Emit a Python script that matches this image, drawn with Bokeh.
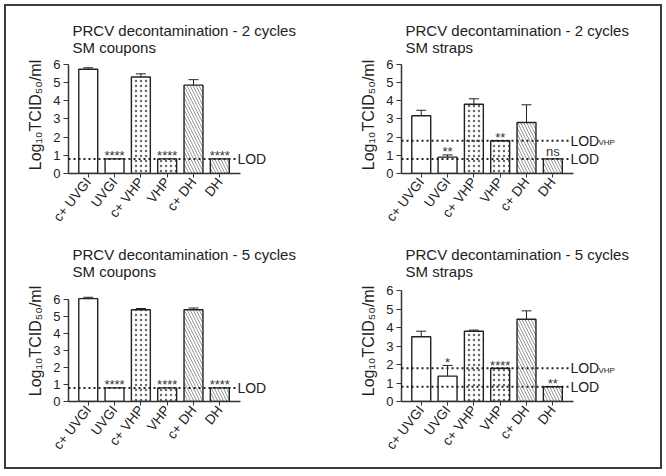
from math import pi
from bokeh.plotting import figure
from bokeh.models import ColumnDataSource, Range1d, FixedTicker, Whisker, TeeHead
from bokeh.layouts import column, row
from bokeh.embed import file_html
from bokeh.resources import INLINE
from bokeh.core.properties import value

# ---------------- data ----------------
categories = ["c+ UVGI", "UVGI", "c+ VHP", "VHP", "c+ DH", "DH"]
y_ticks = [0, 1, 2, 3, 4, 5, 6]

titles = [
    "PRCV decontamination - 2 cycles\nSM coupons",
    "PRCV decontamination - 2 cycles\nSM straps",
    "PRCV decontamination - 5 cycles\nSM coupons",
    "PRCV decontamination - 5 cycles\nSM straps",
]

mean_2c_coupons = [5.72, 0.8, 5.3, 0.8, 4.85, 0.8]
sem_2c_coupons = [0.08, 0.0, 0.17, 0.0, 0.3, 0.0]
sig_2c_coupons = ["", "****", "", "****", "", "****"]

mean_2c_straps = [3.17, 0.9, 3.8, 1.8, 2.8, 0.8]
sem_2c_straps = [0.3, 0.12, 0.3, 0.0, 0.97, 0.0]
sig_2c_straps = ["", "**", "", "**", "", "ns"]

mean_5c_coupons = [6.05, 0.8, 5.4, 0.8, 5.4, 0.8]
sem_5c_coupons = [0.08, 0.0, 0.07, 0.0, 0.1, 0.0]
sig_5c_coupons = ["", "****", "", "****", "", "****"]

mean_5c_straps = [3.5, 1.37, 3.8, 1.8, 4.45, 0.8]
sem_5c_straps = [0.3, 0.58, 0.06, 0.0, 0.45, 0.0]
sig_5c_straps = ["", "*", "", "****", "", "**"]

lod = 0.8
lod_vhp = 1.8

# ---------------- styles ----------------
hatch_for = ["blank", "blank", "dot", "dot", "left_diagonal_line", "left_diagonal_line"]
hatch_scale_for = [6, 6, 5, 5, 6, 6]
FONT = "Liberation Sans"
INK = "#222222"
X_START = -0.75
X_END = 7.8
FRAME_W = 225
TOP = 48
LEFT = 60


def make_panel(title, means, sems, sigs, width, height, px_unit, frame_bottom, show_vhp):
    y_end = (frame_bottom - TOP) / px_unit
    n = len(categories)
    xs = list(range(n))
    p = figure(width=width, height=height,
               x_range=Range1d(X_START, X_END), y_range=Range1d(0, y_end),
               output_backend="svg", toolbar_location=None,
               min_border_left=LEFT, min_border_right=width - LEFT - FRAME_W,
               min_border_top=TOP, min_border_bottom=height - frame_bottom,
               outline_line_color=None, background_fill_color="white",
               border_fill_color="white")
    p.grid.visible = False

    p.title.text = title
    p.title.text_font = FONT
    p.title.text_font_size = "15px"
    p.title.text_font_style = "normal"
    p.title.text_color = INK
    p.title.align = "left"
    p.title.offset = 4
    p.title.standoff = 2
    p.title.text_line_height = 1.0

    ya = p.yaxis[0]
    ya.ticker = FixedTicker(ticks=y_ticks)
    ya.bounds = (0, 6)
    ya.axis_label = "Log\u2081\u2080TCID\u2085\u2080/ml"
    ya.axis_label_text_font = FONT
    ya.axis_label_text_font_size = "16px"
    ya.axis_label_text_font_style = "normal"
    ya.axis_label_text_color = INK
    ya.axis_label_standoff = 6
    ya.major_label_text_font = FONT
    ya.major_label_text_font_size = "13px"
    ya.major_label_text_color = INK
    ya.major_label_standoff = 3
    ya.major_tick_in = 0
    ya.major_tick_out = 5
    ya.minor_tick_line_color = None
    ya.axis_line_width = 1.5
    ya.axis_line_color = "#333333"
    ya.major_tick_line_color = "#333333"

    xa = p.xaxis[0]
    xa.ticker = FixedTicker(ticks=xs)
    xa.major_label_overrides = {i: c for i, c in zip(xs, categories)}
    xa.bounds = (X_START, n - 0.2)
    xa.major_label_orientation = 0.9
    xa.major_label_text_font = FONT
    xa.major_label_text_font_size = "13.5px"
    xa.major_label_text_color = INK
    xa.major_label_standoff = 2
    xa.major_tick_in = 0
    xa.major_tick_out = 4
    xa.minor_tick_line_color = None
    xa.axis_line_width = 1.5
    xa.axis_line_color = "#333333"
    xa.major_tick_line_color = "#333333"

    src = ColumnDataSource(dict(x=xs, top=means, hatch=hatch_for, hscale=hatch_scale_for))
    p.vbar(x="x", top="top", width=0.72, source=src, fill_color="white",
           line_color=INK, line_width=1.4, hatch_pattern="hatch",
           hatch_scale="hscale", hatch_weight=0.7, hatch_color="#6a6a6a")

    wx = [x for x, s in zip(xs, sems) if s > 0]
    wu = [m + s for m, s in zip(means, sems) if s > 0]
    wl = [m - s for m, s in zip(means, sems) if s > 0]
    wsrc = ColumnDataSource(dict(x=wx, upper=wu, lower=wl))
    p.add_layout(Whisker(source=wsrc, base="x", upper="upper", lower="lower",
                         line_color=INK, line_width=1,
                         upper_head=TeeHead(size=10, line_color=INK, line_width=1),
                         lower_head=TeeHead(size=10, line_color=INK, line_width=1)))

    lod_levels = [lod] + ([lod_vhp] if show_vhp else [])
    for lv in lod_levels:
        p.line(x=[X_START, n - 0.4], y=[lv, lv], line_dash="2 3", line_width=2,
               line_color=INK)
    p.text(x=[n - 0.33] * len(lod_levels), y=lod_levels, text=["LOD"] * len(lod_levels),
           text_font=value(FONT), text_font_size="14px", text_baseline="middle",
           text_align="left", text_color=INK)
    if show_vhp:
        p.text(x=[n - 0.33], y=[lod_vhp], text=["VHP"], x_offset=28, y_offset=2,
               text_font=value(FONT), text_font_size="8px", text_baseline="middle",
               text_align="left", text_color=INK)

    sig_y = [m + s + (5 / px_unit if g == "ns" else 0) for m, s, g in zip(means, sems, sigs)]
    ssrc = ColumnDataSource(dict(x=xs, y=sig_y, t=sigs))
    p.text(x="x", y="y", text="t", source=ssrc, text_font=value(FONT),
           text_font_size="13px", text_baseline="alphabetic", text_align="center",
           y_offset=-3, text_color="#333333")
    return p


p1 = make_panel(titles[0], mean_2c_coupons, sem_2c_coupons, sig_2c_coupons, 333, 224, 19.0, 170, False)
p2 = make_panel(titles[1], mean_2c_straps, sem_2c_straps, sig_2c_straps, 317, 224, 19.0, 170, True)
p3 = make_panel(titles[2], mean_5c_coupons, sem_5c_coupons, sig_5c_coupons, 333, 233, 17.0, 169, False)
p4 = make_panel(titles[3], mean_5c_straps, sem_5c_straps, sig_5c_straps, 317, 233, 18.5, 169, True)

layout = column(row(p1, p2), row(p3, p4), margin=(8, 0, 0, 8),
                styles={"outline": "2px solid #3c3c3c", "outline-offset": "2px"})

open("out.html", "w").write(file_html(layout, INLINE))
